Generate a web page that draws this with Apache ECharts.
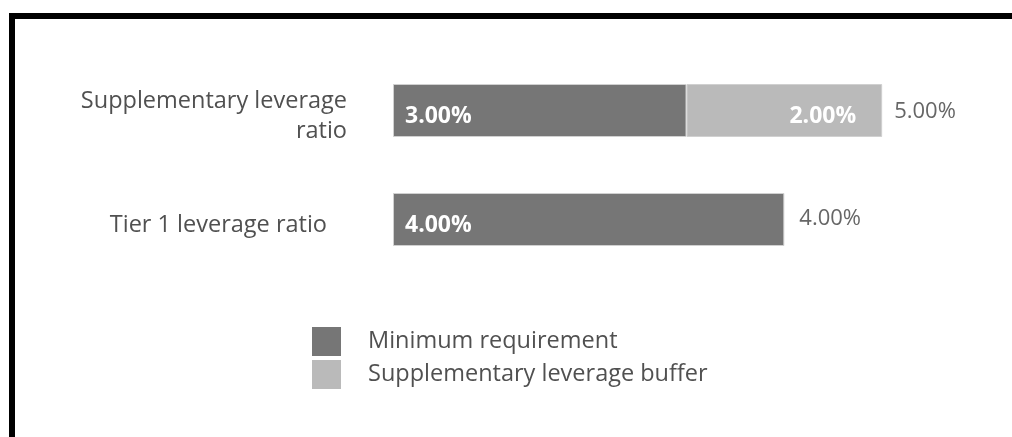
<!DOCTYPE html>
<html>
<head>
<meta charset="utf-8">
<script src="https://cdn.jsdelivr.net/npm/echarts@6/dist/echarts.min.js"></script>
<style>
  body { margin: 0; padding: 0; background: #fff; }
  #chart { width: 1012px; height: 437px; }
</style>
</head>
<body>
<div id="chart"></div>
<script>
// bottom to top
const categories = ["Tier 1 leverage ratio", "Supplementary leverage\nratio"];
const minimumValues = [4, 3];
const bufferValues = ["-", 2];
const seriesNames = ["Minimum requirement", "Supplementary leverage buffer"];

const totals = minimumValues.map((v, i) => v + (bufferValues[i] === "-" ? 0 : bufferValues[i]));
const font = "Open Sans";

let chart = echarts.init(document.getElementById("chart"));
chart.setOption({
  animation: false,
  textStyle: { fontFamily: font },
  graphic: [
    {
      type: "polyline",
      shape: { points: [[12, 437], [12, 16], [1012, 16]] },
      style: { stroke: "#000", lineWidth: 6, fill: null }
    }
  ],
  grid: { left: 393, top: 56, width: 587, height: 218 },
  legend: {
    orient: "vertical",
    left: 312,
    top: 327,
    padding: 0,
    itemWidth: 29,
    itemHeight: 29,
    itemGap: 4,
    icon: "rect",
    itemStyle: { borderWidth: 0 },
    data: seriesNames.slice(),
    textStyle: { fontFamily: font, fontSize: 23.5, color: "#505050", padding: [0, 0, 0, 22] }
  },
  xAxis: {
    type: "value",
    min: 0,
    max: 6,
    show: false
  },
  yAxis: {
    type: "category",
    data: [
      { value: categories[0], textStyle: { padding: [0, 20, 0, 0] } },
      categories[1]
    ],
    axisLine: { show: false },
    axisTick: { show: false },
    axisLabel: {
      margin: 46,
      fontFamily: font,
      fontSize: 23.5,
      lineHeight: 30,
      color: "#505050",
      align: "right",
      // small spacer line on top pushes the block down a little
      formatter: (v) => "{s| }\n" + v,
      rich: { s: { fontSize: 1, lineHeight: 12, height: 12 } }
    }
  },
  series: [
    {
      name: seriesNames[0],
      type: "bar",
      stack: "total",
      barWidth: 53,
      data: minimumValues,
      itemStyle: { color: "#767676", borderColor: "#d0d0d0", borderWidth: 1 },
      label: {
        show: true,
        position: "insideLeft",
        distance: 12,
        offset: [0, 6],
        formatter: (p) => p.value.toFixed(2) + "%",
        color: "#fff",
        fontFamily: font,
        fontWeight: "bold",
        fontSize: 23
      }
    },
    {
      name: seriesNames[1],
      type: "bar",
      stack: "total",
      barWidth: 53,
      data: bufferValues,
      itemStyle: { color: "#bababa", borderColor: "#d0d0d0", borderWidth: 1 },
      label: {
        show: true,
        position: "insideRight",
        distance: 26,
        offset: [0, 6],
        formatter: (p) => p.value.toFixed(2) + "%",
        color: "#fff",
        fontFamily: font,
        fontWeight: "bold",
        fontSize: 23
      }
    },
    {
      name: "total",
      type: "scatter",
      symbolSize: 0,
      silent: true,
      data: totals.map((t, i) => ({
        value: [t, i],
        label: { offset: i === 0 ? [3, -1] : [0, 1] }
      })),
      label: {
        show: true,
        position: "right",
        distance: 12,
        formatter: (p) => p.value[0].toFixed(2) + "%",
        color: "#404040",
        fontFamily: font,
        fontSize: 22
      }
    }
  ]
});
</script>
</body>
</html>
